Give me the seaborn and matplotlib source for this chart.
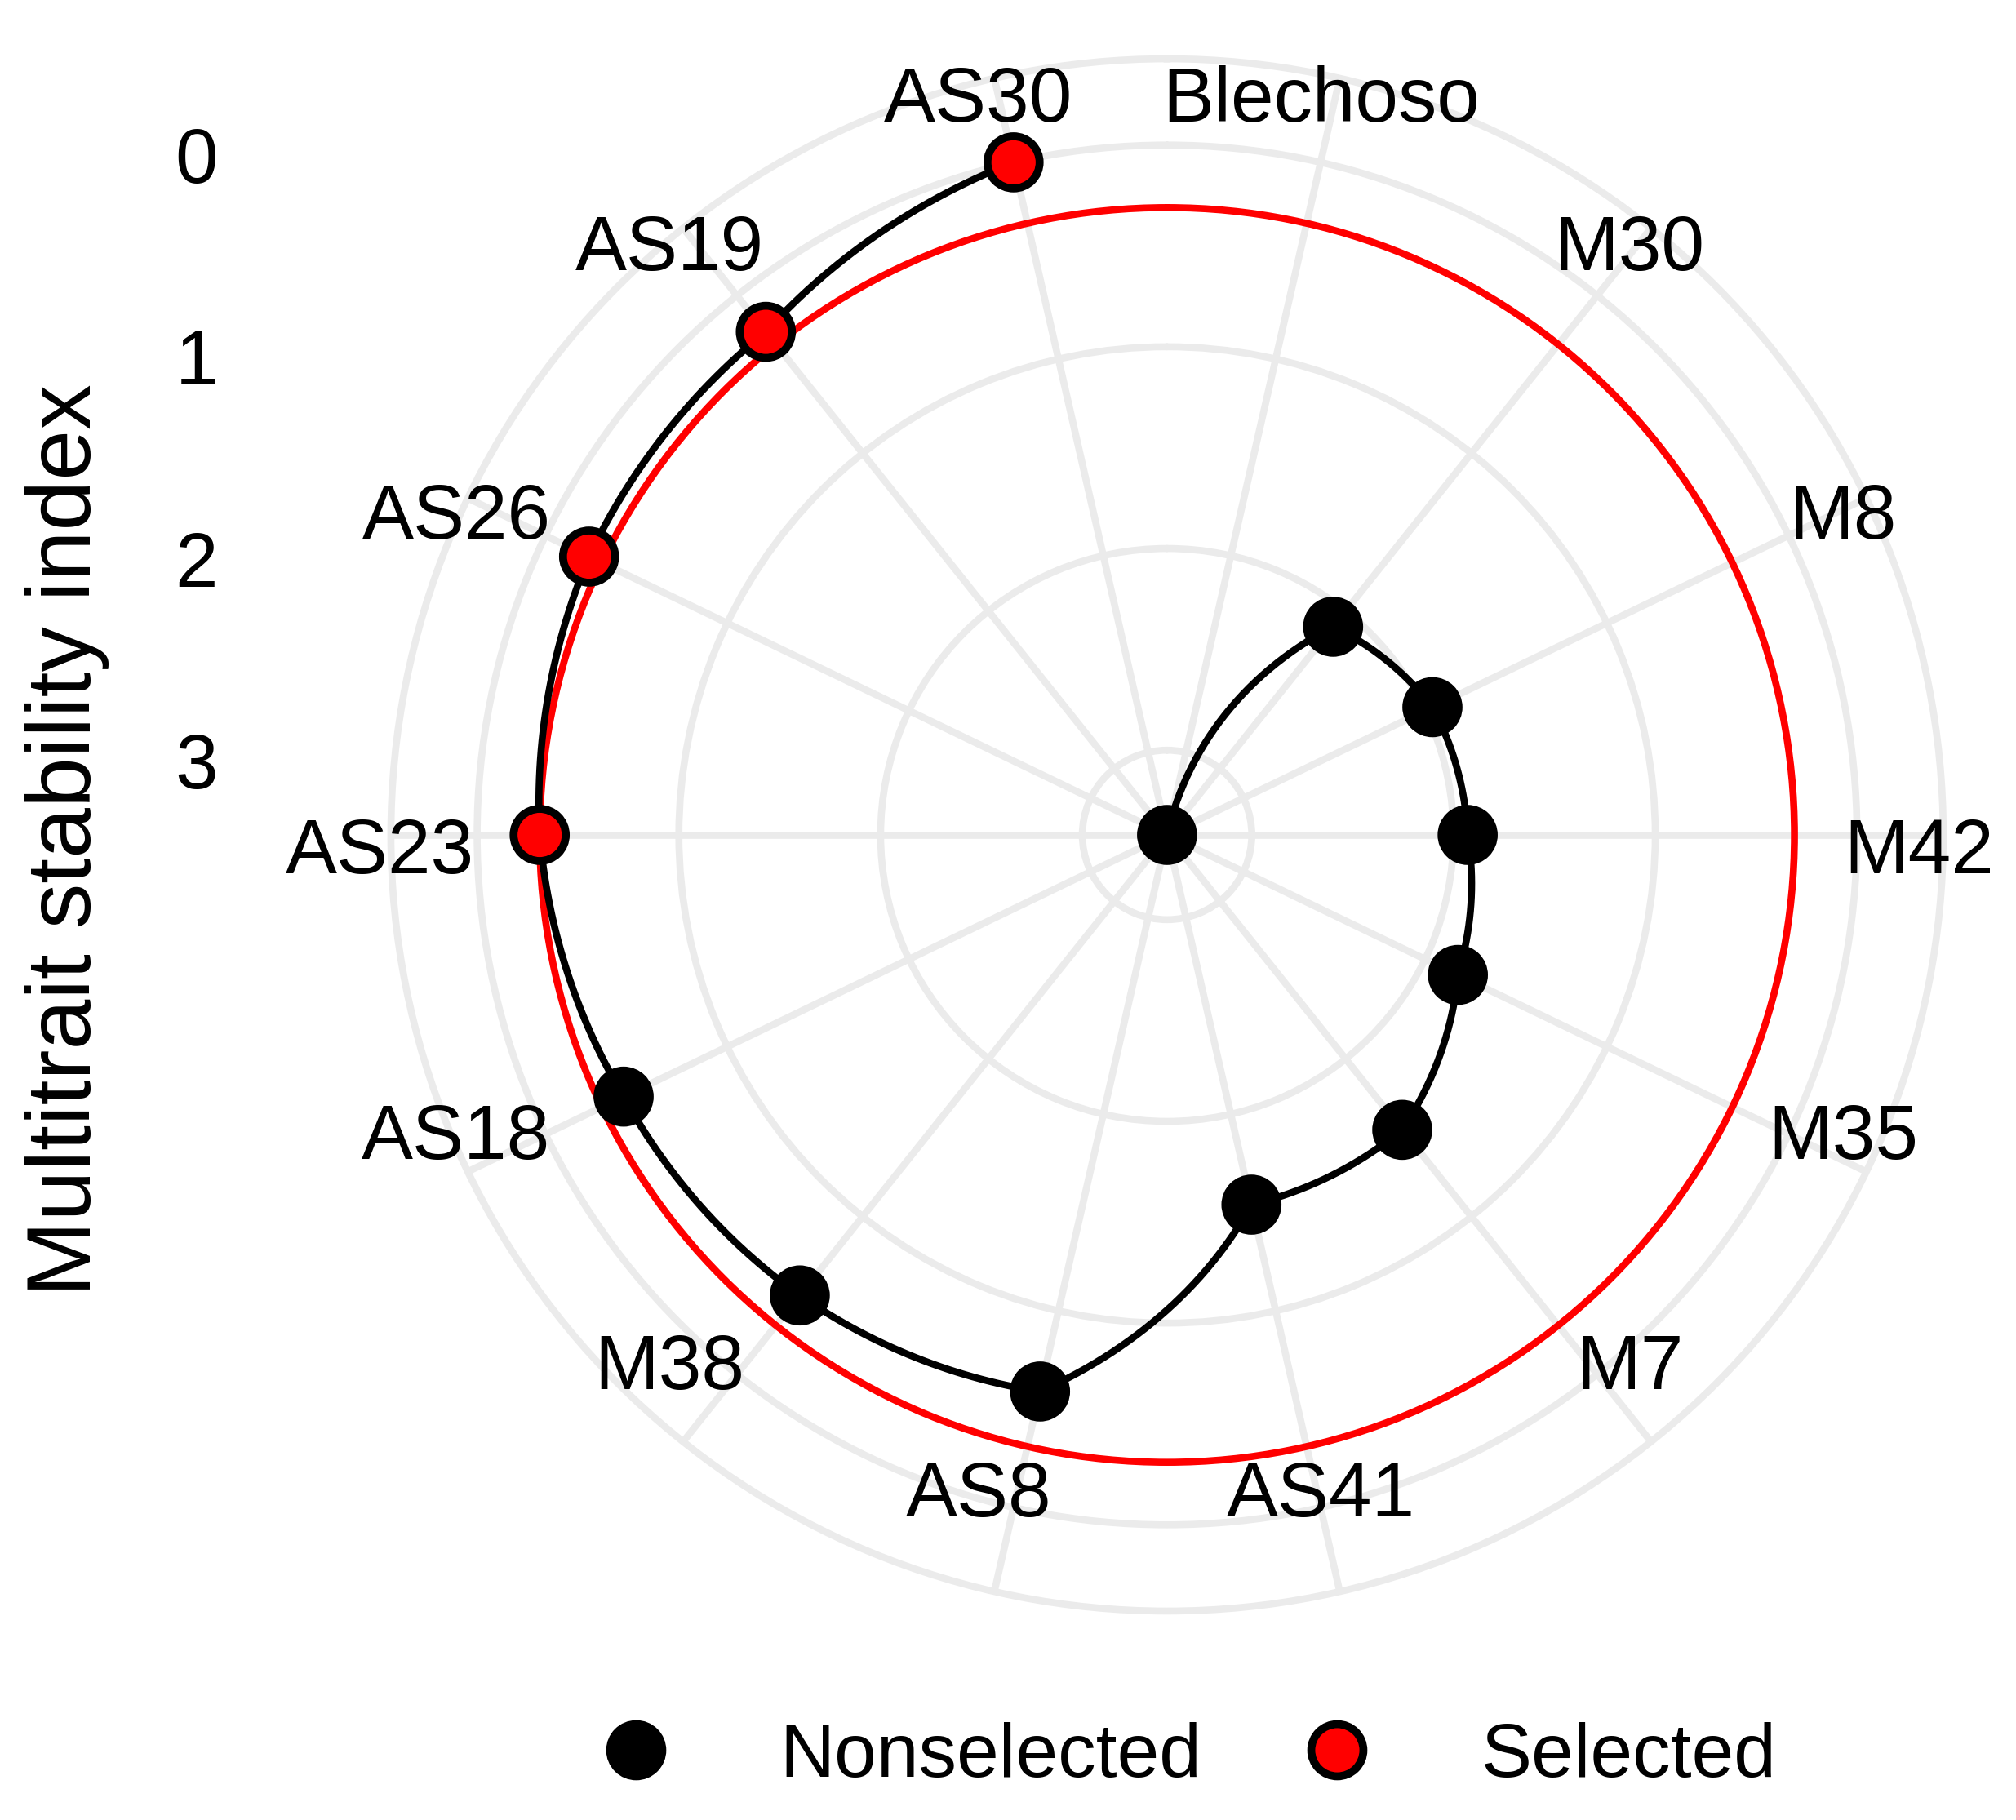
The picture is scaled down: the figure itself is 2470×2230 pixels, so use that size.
import numpy as np
import pandas as pd
import matplotlib
matplotlib.use("Agg")
import matplotlib.pyplot as plt
import matplotlib.transforms as mtransforms
from matplotlib.lines import Line2D
import seaborn as sns

# Genotypes in plotting order (highest MTSI first, clockwise from the top)
genotypes = ["Blechoso", "M30", "M8", "M42", "M35", "M7", "AS41",
             "AS8", "M38", "AS18", "AS23", "AS26", "AS19", "AS30"]
mtsi = [3.42, 2.10, 1.96, 1.93, 1.82, 1.55, 1.54,
        0.59, 0.50, 0.43, 0.31, 0.24, 0.23, 0.00]
selected = ["AS23", "AS26", "AS19", "AS30"]
r_ticks = [0, 1, 2, 3]
legend_labels = ["Nonselected", "Selected"]
y_title = "Multitrait stability index"

sns.set_theme(style="white")
plt.rcParams["font.family"] = ["Liberation Sans", "DejaVu Sans"]
plt.rcParams["text.color"] = "black"
plt.rcParams["axes.labelcolor"] = "black"

df = pd.DataFrame({"Genotype": genotypes, "MTSI": mtsi})
df["sel"] = np.where(df["Genotype"].isin(selected), "Selected", "Nonselected")
n = len(df)
df["theta"] = (np.arange(n) + 0.5) * 2 * np.pi / n
cutpoint = df.loc[df["sel"] == "Selected", "MTSI"].max()

# reversed radial scale, outer ring a bit beyond the data (ggplot's 0.45 vs 0.4)
r_hi = df["MTSI"].max()
r_lo = df["MTSI"].min()
r_out = r_lo - (r_hi - r_lo) * 0.125

grid_col = "#EBEBEB"
lw = 6.2
pt_size = 46
pt_edge = 7

fig = plt.figure(figsize=(24.7, 22.3), dpi=100)
fig.patch.set_facecolor("white")
ax = fig.add_axes([0.1939, 0.1148, 0.7700, 0.8529], projection="polar")
ax.set_facecolor("white")
ax.set_theta_zero_location("N")
ax.set_theta_direction(-1)

# cut point circle
ax.axhline(cutpoint, color="red", lw=lw, zorder=2)

# black path, drawn as a spiral between points like coord_polar
path_line, = ax.plot(df["theta"], df["MTSI"], color="black", lw=lw, zorder=3)
path_line.get_path()._interpolation_steps = 60

sns.scatterplot(data=df, x="theta", y="MTSI", hue="sel",
                palette={"Nonselected": "black", "Selected": "red"},
                s=pt_size ** 2, edgecolor="black", linewidth=pt_edge,
                legend=False, ax=ax, zorder=4, clip_on=False)

ax.set_ylim(r_hi, r_out)
ax.set_xticks(df["theta"])
ax.set_xticklabels([])
ax.set_yticks(r_ticks)
ax.set_yticklabels([])
ax.tick_params(length=0)
ax.set_xlabel("")
ax.set_ylabel("")
ax.grid(True, color=grid_col, linewidth=lw)
ax.spines["polar"].set_color(grid_col)
ax.spines["polar"].set_linewidth(lw)

# genotype labels around the circle
for th, name in zip(df["theta"], df["Genotype"]):
    c = np.cos(th)
    dx = -5.7 * np.sin(th) - 15.4
    dy = -53.5 * c + 49 * abs(c) - 15.9
    ax.annotate(name, xy=(th, r_out), xytext=(dx, dy), textcoords="offset points",
                ha="center", va="center", fontsize=68, color="black",
                annotation_clip=False)

# radial axis drawn on the left, same vertical scale as the polar panel
ax_y = fig.add_axes([267 / 2470, 0.1148, 0.0005, 0.8529])
ax_y.set_ylim(2 * r_hi - r_out, r_out)
ax_y.set_yticks(r_ticks)
ax_y.set_xticks([])
ax_y.tick_params(axis="y", length=0, pad=0, labelsize=68, colors="black")
for s in ax_y.spines.values():
    s.set_visible(False)
ax_y.patch.set_visible(False)
shift = mtransforms.ScaledTranslation(0, -0.12, fig.dpi_scale_trans)
for lab in ax_y.get_yticklabels():
    lab.set_transform(lab.get_transform() + shift)

fig.text(0.0332, 0.5386, y_title, rotation=90, ha="center", va="center",
         fontsize=80, color="black")

handles = [Line2D([], [], ls="none", marker="o", markersize=pt_size,
                  markerfacecolor=c, markeredgecolor="black", markeredgewidth=pt_edge)
           for c in ["black", "red"]]
fig.legend(handles, legend_labels, loc="center", bbox_to_anchor=(0.5795, 0.0345),
           ncol=2, frameon=False, fontsize=67, handlelength=2, handletextpad=0.9,
           columnspacing=0.78, borderpad=0, borderaxespad=0)

fig.savefig("out.png", dpi=100, facecolor="white")
